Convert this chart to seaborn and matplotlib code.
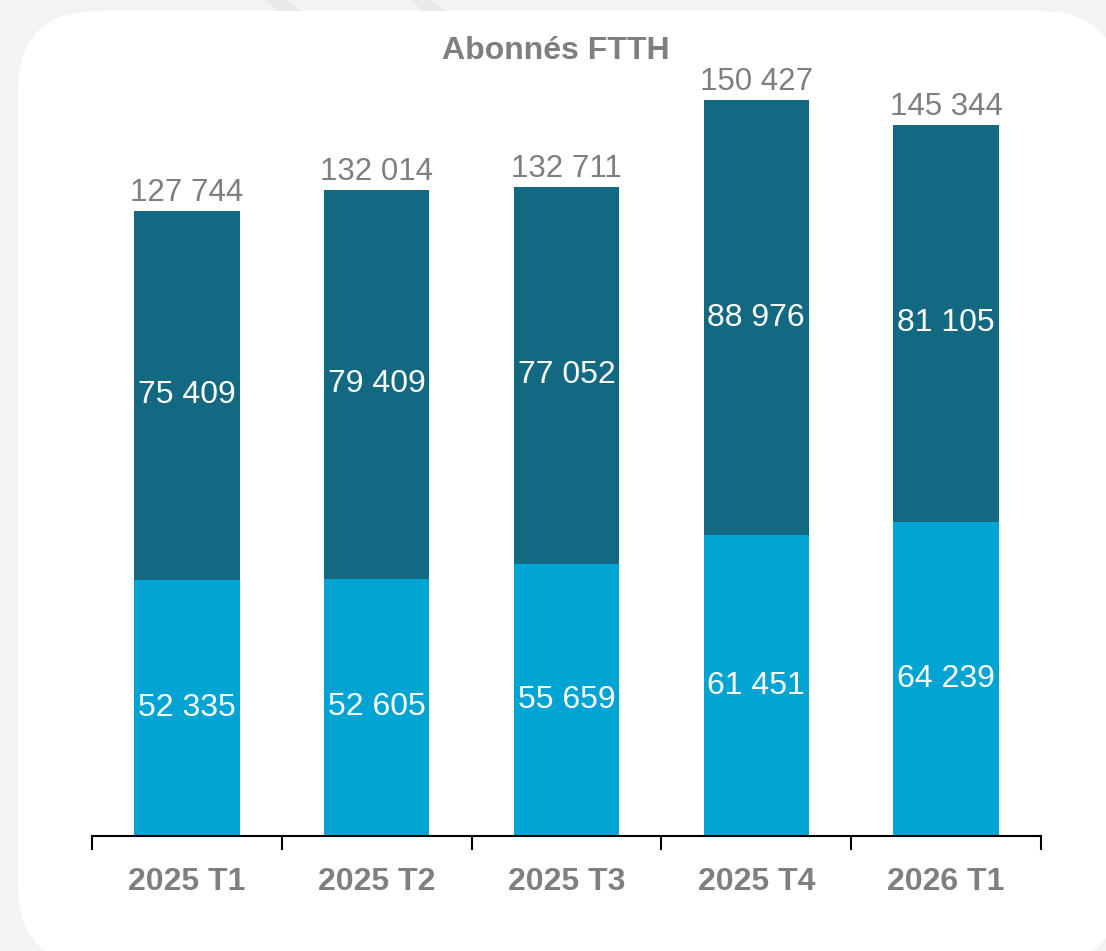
import pandas as pd
import seaborn as sns
import matplotlib.pyplot as plt
from matplotlib.patches import FancyBboxPatch, Polygon

# Data
quarters = ['2025 T1', '2025 T2', '2025 T3', '2025 T4', '2026 T1']
lower_values = [52335, 52605, 55659, 61451, 64239]
upper_values = [75409, 79409, 77052, 88976, 81105]
totals = [127744, 132014, 132711, 150427, 145344]

light_blue = '#00a4d3'
dark_teal = '#136882'
gray_text = '#7f7f7f'


def fmt(v):
    return f'{v:,}'.replace(',', ' ')


df = pd.DataFrame({'Quarter': quarters, 'Lower': lower_values,
                   'Upper': upper_values, 'Total': totals})

sns.set_style('white')
plt.rcParams['font.family'] = ['Liberation Sans', 'DejaVu Sans']

W, H = 1106, 951
fig = plt.figure(figsize=(W / 100, H / 100), dpi=100)
fig.patch.set_facecolor('#f3f3f3')

# background panel in pixel coordinates
bg = fig.add_axes([0, 0, 1, 1], zorder=0)
bg.set_xlim(0, W)
bg.set_ylim(H, 0)
bg.axis('off')
for x0 in (265, 410):
    bg.add_patch(Polygon([[x0, 0], [x0 + 22, 0], [x0 + 35, 11], [x0 + 13, 11]],
                         closed=True, color='#e9e9e9', lw=0))
bg.add_patch(FancyBboxPatch((18, 11), 1102, 954,
                            boxstyle='round,pad=0,rounding_size=80',
                            facecolor='white', edgecolor='none'))

# main axes: baseline at y=836 px, 150 427 reaches y=100 px
px_per_unit = (836 - 100) / 150427
ytop = 165000
ax_top_px = 836 - ytop * px_per_unit
ax = fig.add_axes([92 / W, (H - 836) / H, (1041 - 92) / W, (836 - ax_top_px) / H],
                  zorder=1)
ax.patch.set_alpha(0)

sns.barplot(data=df, x='Quarter', y='Total', color=dark_teal, width=0.555,
            saturation=1, linewidth=0, ax=ax)
sns.barplot(data=df, x='Quarter', y='Lower', color=light_blue, width=0.555,
            saturation=1, linewidth=0, ax=ax)

for i in range(len(quarters)):
    lo, up, tot = lower_values[i], upper_values[i], totals[i]
    ax.text(i, lo / 2, fmt(lo), ha='center', va='center', color='white', fontsize=23)
    ax.text(i, lo + up / 2, fmt(up), ha='center', va='center', color='white', fontsize=23)
    ax.annotate(fmt(tot), (i, tot), xytext=(0, 2), textcoords='offset points',
                ha='center', va='bottom', color=gray_text, fontsize=22.5)

ax.set_xlim(-0.5, len(quarters) - 0.5)
ax.set_ylim(0, ytop)
ax.set_xlabel('')
ax.set_ylabel('')
ax.set_yticks([])
for side in ('top', 'left', 'right'):
    ax.spines[side].set_visible(False)
ax.spines['bottom'].set_color('black')
ax.spines['bottom'].set_linewidth(1.5)
ax.set_xticks([i - 0.5 for i in range(len(quarters) + 1)], minor=True)
ax.tick_params(axis='x', which='minor', length=10, width=1.5, color='black',
               direction='out', bottom=True)
ax.tick_params(axis='x', which='major', length=0, pad=22, labelsize=23,
               labelcolor=gray_text)
for lbl in ax.get_xticklabels():
    lbl.set_fontweight('bold')

fig.text(556 / W, 1 - 51 / H, 'Abonnés FTTH', ha='center', va='center',
         fontsize=23, fontweight='bold', color=gray_text)

fig.savefig('out.png', dpi=100, facecolor=fig.get_facecolor())
